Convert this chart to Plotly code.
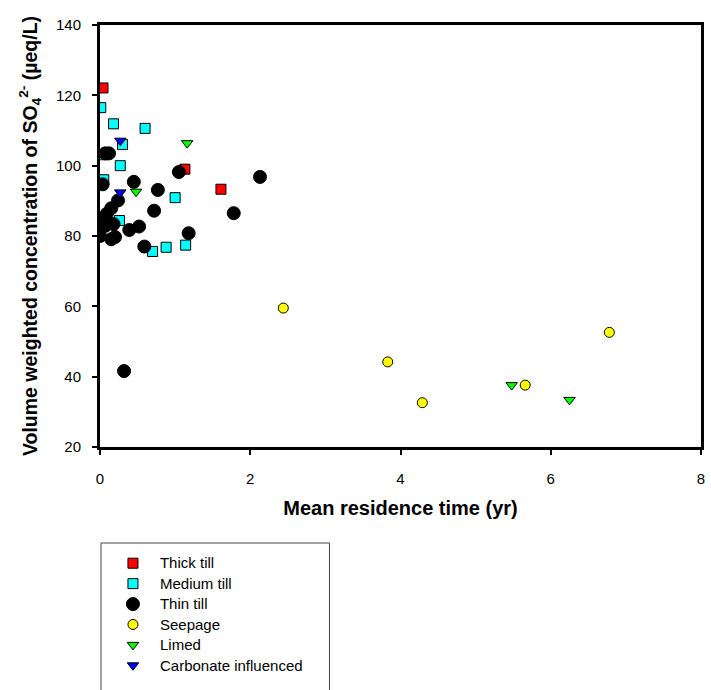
import plotly.graph_objects as go

# ---- data ----
thick_x = [0.04, 1.13, 1.61]
thick_y = [122.1, 99.0, 93.3]

medium_x = [0.01, 0.18, 0.60, 0.30, 0.05, 0.27, 0.05, 1.00, 0.26, 0.88, 0.70, 1.14]
medium_y = [116.5, 111.9, 110.6, 106.0, 103.1, 100.0, 96.0, 90.9, 84.4, 76.8, 75.6, 77.4]

thin_x = [0.07, 0.12, 1.05, 0.45, 0.035, 0.77, 1.78, 0.24, 0.72, 0.15, 0.09,
          0.03, 0.07, 0.18, 0.39, 0.52, 1.18, 0.00, 0.15, 0.20, 0.59, 2.13, 0.32]
thin_y = [103.5, 103.5, 98.2, 95.4, 94.7, 93.1, 86.5, 90.1, 87.2, 87.9, 86.3,
          84.4, 82.9, 83.4, 81.7, 82.7, 80.8, 80.0, 79.1, 79.7, 77.0, 96.8, 41.6]

seep_x = [2.44, 3.83, 4.29, 5.66, 6.78]
seep_y = [59.5, 44.2, 32.6, 37.6, 52.6]

limed_x = [1.16, 0.48, 5.48, 6.25]
limed_y = [106.4, 92.6, 37.6, 33.4]

carb_x = [0.27, 0.27]
carb_y = [107.1, 92.4]

x_ticks = [0, 2, 4, 6, 8]
y_ticks = [20, 40, 60, 80, 100, 120, 140]

FONT = "Liberation Sans, Arial, sans-serif"

fig = go.Figure()

def add(name, xs, ys, symbol, color, size, line_color="black"):
    fig.add_trace(go.Scatter(
        x=xs, y=ys, mode="markers",
        name="<span style='font-size:15px'>" + name + "</span>",
        marker=dict(symbol=symbol, color=color, size=size,
                    line=dict(color=line_color, width=1)),
    ))

add("Thick till", thick_x, thick_y, "square", "#FF0000", 10)
add("Medium till", medium_x, medium_y, "square", "#00FFFF", 10)
add("Thin till", thin_x, thin_y, "circle", "#000000", 13)
add("Seepage", seep_x, seep_y, "circle", "#FFFF00", 10)
add("Limed", limed_x, limed_y, "triangle-down", "#00FF00", 10)
add("Carbonate influenced", carb_x, carb_y, "triangle-down", "#0000FF", 10)

W, H = 711, 690
L, R, T, B = 100, 6, 25, 243
pw = W - L - R
ph = H - T - B

def px_x(p):
    return (p - L) / pw

def px_y(p):
    return (H - B - p) / ph

# legend box (extends past the bottom of the image)
fig.add_shape(type="rect", xref="paper", yref="paper",
              x0=px_x(101), x1=px_x(331), y0=px_y(543), y1=px_y(770),
              line=dict(color="#444444", width=1), fillcolor="white", layer="below")

fig.update_layout(
    width=W, height=H,
    margin=dict(l=L, r=R, t=T, b=B),
    paper_bgcolor="white", plot_bgcolor="white",
    font=dict(family=FONT, size=15, color="black"),
    showlegend=True,
    legend=dict(
        x=px_x(106), y=px_y(548), xanchor="left", yanchor="top",
        bgcolor="rgba(0,0,0,0)", borderwidth=0,
        font=dict(family=FONT, size=13.4, color="black"),
        itemwidth=44,
    ),
    xaxis=dict(
        range=[0, 8], tickvals=x_ticks, ticktext=[str(v) for v in x_ticks],
        showgrid=False, zeroline=False,
        showline=True, linecolor="black", linewidth=3, mirror=True,
        ticks="outside", ticklen=5, tickwidth=1.5, tickcolor="black",
        tickfont=dict(family=FONT, size=15),
        ticklabelstandoff=11, ticklabeloverflow="allow",
        title=dict(text="<b>Mean residence time (yr)</b>",
                   font=dict(family=FONT, size=20), standoff=15),
    ),
    yaxis=dict(
        range=[20, 140], tickvals=y_ticks, ticktext=[str(v) for v in y_ticks],
        showgrid=False, zeroline=False,
        showline=True, linecolor="black", linewidth=3, mirror=True,
        ticks="outside", ticklen=5, tickwidth=1.5, tickcolor="black",
        tickfont=dict(family=FONT, size=15),
        ticklabelstandoff=8,
        title=dict(text="<b>Volume weighted concentration of SO<sub>4</sub><sup>2-</sup> (µeq/L)</b>",
                   font=dict(family=FONT, size=19.5), standoff=14),
    ),
)

fig.write_html(
    "out.html",
    config={"displayModeBar": False},
    post_script="document.body.style.margin='0';document.body.style.overflow='hidden';",
)
